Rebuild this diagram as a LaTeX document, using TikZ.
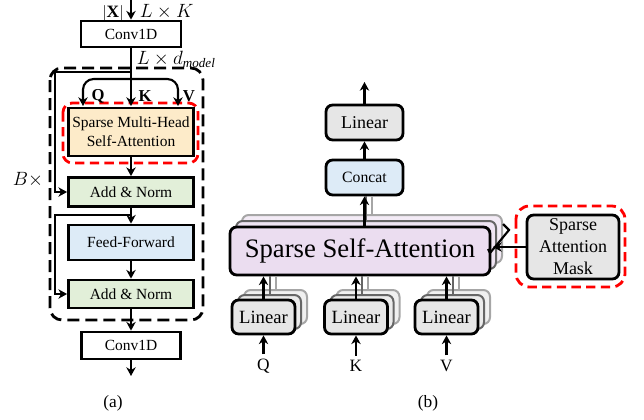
\documentclass[tikz,border=0pt]{standalone}
\usepackage{fontspec}
\setmainfont{Liberation Serif}
\usetikzlibrary{arrows.meta}
\definecolor{orangeF}{HTML}{FDEBC9}
\definecolor{greenF}{HTML}{E2EFD9}
\definecolor{blueF}{HTML}{DDEBF7}
\definecolor{purpF}{HTML}{EBDDF0}
\definecolor{grayF}{HTML}{E6E6E6}
\definecolor{redD}{HTML}{FF0000}
\begin{document}
\begin{tikzpicture}[x=0.75pt,y=-0.75pt,
  box/.style={draw=black,line width=2.1pt,inner sep=0pt,align=center},
  rbox/.style={box,rounded corners=5pt},
  cpyA/.style={draw=black!60,line width=1.5pt,inner sep=0pt,rounded corners=5pt},
  cpyB/.style={draw=black!35,line width=1.5pt,inner sep=0pt,rounded corners=5pt},
  arr/.style={line width=1.6pt,-{Stealth[length=6.5pt,width=7pt,inset=2pt]}},
  plain/.style={line width=1.6pt},
  shA/.style={line width=1.5pt,draw=black!60},
  shB/.style={line width=1.5pt,draw=black!35},
  blkdash/.style={line width=2.1pt,dash pattern=on 9pt off 4.5pt},
  reddash/.style={draw=redD,line width=2.1pt,dash pattern=on 7pt off 4pt},
  fa/.style={font=\fontsize{11.6}{14}\selectfont},
  mlab/.style={font=\fontsize{14}{16}\selectfont,inner sep=0.5pt},
]
\useasboundingbox (0,0) rectangle (644,419);

% ---------------- (a) ----------------
\draw[blkdash,rounded corners=9pt] (50,68) rectangle (203,320);
\draw[reddash,rounded corners=7pt] (63,103) rectangle (198,163);

\node[box,fill=white,minimum width=75pt,minimum height=19.5pt,fa] (conv1) at (131,34) {Conv1D};
\node[box,fill=orangeF,minimum width=93.75pt,minimum height=36pt,fa] (attn) at (131,132) {Sparse Multi-Head\\Self-Attention};
\node[box,fill=greenF,minimum width=93.75pt,minimum height=21.75pt,fa] (add1) at (131,192) {Add \& Norm};
\node[box,fill=blueF,minimum width=93.75pt,minimum height=26.25pt,fa] (ff) at (131,242.5) {Feed-Forward};
\node[box,fill=greenF,minimum width=93.75pt,minimum height=21pt,fa] (add2) at (131,294) {Add \& Norm};
\node[box,fill=white,minimum width=74.25pt,minimum height=20.25pt,fa] (conv2) at (131,345.5) {Conv1D};

\coordinate (xin) at (131,0);
\coordinate (split) at (131,72);
\coordinate (qkv) at (131,79);
\coordinate (res1) at (55,192);
\coordinate (qin) at (83,106);
\coordinate (kin) at (131,106);
\coordinate (vin) at (178,106);
\coordinate (split2) at (131,215);
\coordinate (res2) at (55,294);
\coordinate (aout) at (131,376);

\node[mlab,font=\fontsize{13}{15}\selectfont] (xlab) at (113,13) {$|\mathbf{X}|$};
\node[mlab,anchor=west] (lk) at (139,12) {$L\times K$};
\node[mlab,anchor=west] (ld) at (136,59) {$L\times d_{\mathit{model}}$};
\node[mlab] (bx) at (28,180) {$B\times$};

\draw[arr] (xin) -- (conv1);
\draw[arr] (conv1.south) -- (split) -| (res1) -- (add1.west);
\draw[arr] (split) -- (kin);
\draw[arr,rounded corners=8pt] (qkv) -| (qin);
\draw[arr,rounded corners=8pt] (qkv) -| (vin);
\node[font=\bfseries\fontsize{12.5}{14}\selectfont] (ql) at (98,96) {Q};
\node[font=\bfseries\fontsize{12.5}{14}\selectfont] (kl) at (145,96) {K};
\node[font=\bfseries\fontsize{12.5}{14}\selectfont] (vl) at (189,96) {V};

\draw[arr] (attn) -- (add1);
\draw[arr] (add1) -- (ff);
\draw[arr] (split2) -| (res2) -- (add2.west);
\draw[arr] (ff) -- (add2);
\draw[arr] (add2) -- (conv2);
\draw[arr] (conv2) -- (aout);

\node[font=\fontsize{13}{15}\selectfont] (capa) at (113,403) {(a)};

% ---------------- (b) ----------------
\node[rbox,fill=grayF,minimum width=57.75pt,minimum height=26.25pt,font=\fontsize{13.5}{16}\selectfont] (lintop) at (364.5,122.5) {Linear};
\node[rbox,fill=blueF,minimum width=57.75pt,minimum height=26.25pt,font=\fontsize{11.8}{14}\selectfont] (concat) at (364.5,177.5) {Concat};
\coordinate (bout) at (364.5,82);
\draw[arr] (lintop) -- (bout);
\draw[arr] (concat) -- (lintop);

% SSA stack
\node[cpyB,fill=purpF!60,minimum width=195pt,minimum height=36pt] (ssa3) at (372,239) {};
\draw[shB] (ssa3.north) -- (ssa3.north |- concat.south);
\node[cpyA,fill=purpF!80,minimum width=195pt,minimum height=36pt] (ssa2) at (366,245) {};
\draw[shA] (ssa2.north) -- (ssa2.north |- concat.south);
\node[rbox,fill=purpF,minimum width=195pt,minimum height=36pt,font=\fontsize{20}{24}\selectfont] (ssa) at (360,251) {Sparse Self-Attention};
\draw[arr] (ssa.north -| concat) -- (concat);

% Linear stacks
\foreach \nm/\cx in {linq/263.5,link/356,linv/446.5}{
  \node[cpyB,fill=grayF!60,minimum width=47.25pt,minimum height=25.5pt] (\nm3) at (\cx+12,307) {};
  \draw[shB] (\nm3.north) -- (\nm3.north |- ssa.south);
  \node[cpyA,fill=grayF!80,minimum width=47.25pt,minimum height=25.5pt] (\nm2) at (\cx+6,312) {};
  \draw[shA] (\nm2.north) -- (\nm2.north |- ssa.south);
  \node[rbox,fill=grayF,minimum width=47.25pt,minimum height=25.5pt,font=\fontsize{14}{16}\selectfont] (\nm) at (\cx,317) {Linear};
  \draw[arr] (\nm) -- (\nm |- ssa.south);
}
\node[font=\fontsize{13}{15}\selectfont] (lq) at (263.5,366) {Q};
\node[font=\fontsize{13}{15}\selectfont] (lkk) at (356,366) {K};
\node[font=\fontsize{13}{15}\selectfont] (lv) at (446.5,366) {V};
\draw[arr] (lq.north) -- (linq);
\draw[arr] (lkk.north) -- (link);
\draw[arr] (lv.north) -- (linv);

% Mask
\draw[reddash,rounded corners=10pt] (516,206) rectangle (625,287);
\node[rbox,fill=grayF,minimum width=69pt,minimum height=48pt,font=\fontsize{13.5}{16.5}\selectfont] (mask) at (573,247) {Sparse\\Attention\\Mask};
\coordinate (mtip) at (493,247);
\draw[arr] (mask.west) -- (mtip);
\draw[plain] (503,224) -- (509,230) -- (490,253) -- (488,249);

\node[font=\fontsize{13}{15}\selectfont] (capb) at (428,403) {(b)};
\end{tikzpicture}
\end{document}
